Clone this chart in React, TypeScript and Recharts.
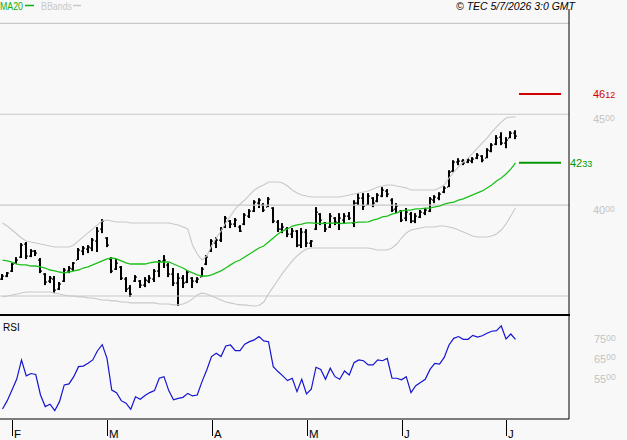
import React from 'react';
import { ComposedChart, Bar, Line, XAxis, YAxis, ReferenceLine } from 'recharts';

// Session index of the first trading day of each month, and its letter
const monthTicks = [2, 22, 44, 64, 84, 106];
const monthLabels = ['F', 'M', 'A', 'M', 'J', 'J'];

// Daily OHLC
const opens = [
  3595, 3610, 3640, 3680, 3712, 3785, 3720, 3745, 3700, 3620,
  3580, 3595, 3540, 3580, 3640, 3650, 3700, 3750, 3760, 3765,
  3800, 3870, 3820, 3705, 3650, 3660, 3595, 3545, 3580, 3585,
  3560, 3585, 3595, 3640, 3690, 3670, 3620, 3570, 3600, 3575,
  3600, 3580, 3605, 3675, 3745, 3790, 3810, 3880, 3910, 3895,
  3880, 3895, 3940, 3970, 4010, 4000, 3990, 3985, 3905, 3870,
  3870, 3840, 3855, 3780, 3850, 3790, 3870, 3950, 3900, 3880,
  3930, 3900, 3920, 3940, 3900, 4010, 4040, 4000, 4040, 4020,
  4050, 4080, 4030, 3980, 3965, 3930, 3950, 3915, 3935, 3955,
  3970, 4030, 4040, 4070, 4100, 4190, 4235, 4245, 4235, 4245,
  4260, 4270, 4260, 4300, 4335, 4375, 4340, 4370, 4395,
];
const highs = [
  3621, 3632, 3681, 3714, 3791, 3797, 3758, 3753, 3709, 3626,
  3610, 3610, 3577, 3654, 3665, 3687, 3764, 3775, 3780, 3819,
  3879, 3923, 3824, 3714, 3703, 3665, 3604, 3560, 3615, 3588,
  3604, 3615, 3648, 3698, 3725, 3681, 3654, 3626, 3615, 3643,
  3604, 3604, 3659, 3725, 3813, 3824, 3879, 3940, 3918, 3929,
  3890, 3956, 3978, 4027, 4038, 4011, 4044, 3989, 3918, 3901,
  3879, 3874, 3863, 3874, 3868, 3808, 3989, 3956, 3907, 3956,
  3934, 3956, 3956, 3962, 4027, 4066, 4066, 4066, 4044, 4066,
  4099, 4088, 4038, 4011, 3973, 3984, 3962, 3956, 3973, 3984,
  4044, 4055, 4071, 4104, 4192, 4247, 4258, 4253, 4258, 4264,
  4286, 4275, 4313, 4341, 4385, 4401, 4374, 4407, 4412,
];
const lows = [
  3588, 3604, 3632, 3676, 3709, 3703, 3714, 3720, 3626, 3560,
  3571, 3516, 3533, 3577, 3626, 3637, 3698, 3725, 3736, 3747,
  3742, 3846, 3769, 3626, 3643, 3588, 3522, 3495, 3577, 3544,
  3549, 3571, 3577, 3604, 3654, 3604, 3555, 3445, 3544, 3571,
  3544, 3571, 3604, 3670, 3742, 3764, 3797, 3874, 3874, 3879,
  3852, 3890, 3929, 3962, 3984, 3962, 3989, 3901, 3852, 3846,
  3824, 3819, 3769, 3764, 3769, 3769, 3863, 3890, 3852, 3874,
  3890, 3863, 3901, 3918, 3879, 4000, 3973, 4000, 3989, 4016,
  4044, 4044, 3962, 3956, 3907, 3912, 3901, 3901, 3929, 3945,
  3962, 4011, 4027, 4066, 4099, 4181, 4220, 4220, 4231, 4231,
  4253, 4236, 4258, 4291, 4330, 4330, 4313, 4368, 4363,
];
const closes = [
  3610, 3625, 3675, 3700, 3780, 3720, 3745, 3735, 3640, 3575,
  3600, 3535, 3565, 3645, 3655, 3680, 3755, 3765, 3770, 3810,
  3860, 3910, 3780, 3640, 3680, 3600, 3540, 3510, 3605, 3560,
  3590, 3600, 3640, 3690, 3700, 3620, 3570, 3600, 3570, 3630,
  3580, 3595, 3650, 3715, 3800, 3810, 3870, 3930, 3895, 3920,
  3860, 3945, 3970, 4015, 4030, 3975, 4035, 3910, 3870, 3880,
  3840, 3860, 3780, 3850, 3790, 3800, 3960, 3920, 3870, 3940,
  3905, 3930, 3940, 3930, 4010, 4040, 3995, 4050, 4010, 4055,
  4085, 4060, 3975, 3995, 3920, 3960, 3915, 3940, 3960, 3975,
  4035, 4045, 4060, 4095, 4180, 4235, 4245, 4230, 4250, 4255,
  4275, 4250, 4305, 4330, 4370, 4340, 4360, 4395, 4380,
];

// 20-session moving average and Bollinger envelope
const ma20 = [
  3698, 3693, 3687, 3676, 3671, 3671, 3665, 3665, 3660, 3654,
  3643, 3638, 3632, 3627, 3632, 3638, 3643, 3654, 3660, 3671,
  3682, 3693, 3704, 3709, 3704, 3693, 3682, 3676, 3676, 3676,
  3676, 3682, 3687, 3687, 3687, 3687, 3676, 3665, 3654, 3638,
  3627, 3616, 3610, 3610, 3616, 3627, 3638, 3654, 3671, 3687,
  3698, 3715, 3731, 3748, 3764, 3775, 3797, 3819, 3841, 3858,
  3869, 3885, 3891, 3896, 3902, 3902, 3900, 3899, 3900, 3902,
  3901, 3899, 3900, 3902, 3904, 3907, 3907, 3908, 3918, 3924,
  3935, 3940, 3951, 3957, 3968, 3973, 3973, 3979, 3979, 3984,
  3984, 3990, 3995, 4006, 4012, 4017, 4028, 4034, 4045, 4056,
  4067, 4078, 4094, 4111, 4133, 4149, 4171, 4198, 4233,
];
const bbUpper = [
  3902, 3885, 3863, 3841, 3819, 3803, 3797, 3792, 3786, 3781,
  3775, 3770, 3770, 3770, 3770, 3781, 3803, 3825, 3847, 3869,
  3891, 3913, 3918, 3913, 3907, 3907, 3907, 3902, 3902, 3902,
  3902, 3902, 3902, 3902, 3902, 3902, 3896, 3891, 3880, 3869,
  3781, 3731, 3698, 3720, 3775, 3819, 3858, 3902, 3940, 3979,
  4006, 4028, 4056, 4083, 4100, 4111, 4127, 4127, 4127, 4122,
  4105, 4083, 4067, 4056, 4050, 4045, 4045, 4045, 4045, 4045,
  4045, 4045, 4050, 4056, 4061, 4067, 4072, 4078, 4089, 4100,
  4105, 4111, 4111, 4105, 4100, 4094, 4083, 4083, 4083, 4083,
  4083, 4083, 4094, 4111, 4149, 4182, 4210, 4237, 4259, 4286,
  4314, 4342, 4369, 4402, 4430, 4457, 4479, 4485, 4485,
];
const bbLower = [
  3495, 3500, 3506, 3511, 3517, 3522, 3522, 3522, 3522, 3522,
  3522, 3517, 3511, 3506, 3500, 3500, 3495, 3495, 3489, 3489,
  3484, 3478, 3478, 3473, 3473, 3467, 3467, 3462, 3462, 3462,
  3462, 3462, 3462, 3456, 3456, 3456, 3451, 3451, 3456, 3467,
  3484, 3506, 3517, 3511, 3500, 3489, 3478, 3467, 3462, 3456,
  3451, 3451, 3448, 3445, 3448, 3467, 3511, 3550, 3588, 3627,
  3660, 3693, 3720, 3742, 3759, 3764, 3764, 3764, 3764, 3764,
  3764, 3764, 3764, 3764, 3764, 3764, 3764, 3764, 3759, 3753,
  3753, 3753, 3764, 3786, 3819, 3847, 3863, 3869, 3874, 3880,
  3880, 3880, 3885, 3885, 3880, 3874, 3863, 3852, 3841, 3830,
  3825, 3825, 3825, 3830, 3841, 3863, 3896, 3940, 3984,
];

// 14-session RSI
const rsi14 = [
  39.6, 43.8, 49.2, 54.8, 64.5, 56.4, 57.6, 57.1, 46.7, 40.8,
  42.0, 38.7, 43.3, 51.8, 52.3, 56.0, 61.1, 61.4, 62.8, 64.5,
  69.2, 72.3, 65.3, 49.2, 47.9, 43.8, 42.5, 39.4, 45.8, 44.5,
  46.4, 47.9, 48.9, 55.2, 56.0, 48.9, 44.2, 45.0, 45.5, 47.5,
  46.2, 46.7, 53.5, 59.4, 66.2, 67.9, 66.2, 71.6, 72.1, 69.2,
  69.2, 72.5, 73.8, 74.7, 76.4, 74.2, 73.8, 61.1, 58.6, 56.4,
  54.0, 55.2, 48.4, 54.7, 47.2, 49.6, 60.8, 59.7, 54.7, 60.3,
  56.0, 54.7, 58.9, 56.9, 63.1, 64.5, 64.1, 62.0, 62.0, 64.5,
  64.1, 65.3, 55.2, 55.2, 54.4, 56.0, 47.9, 51.4, 53.0, 54.7,
  59.7, 62.8, 62.4, 65.8, 72.1, 75.5, 76.4, 75.0, 75.0, 77.0,
  76.1, 76.8, 78.1, 79.1, 79.4, 81.8, 75.2, 77.7, 75.0,
];

const priceGrid = [3500, 4000, 4500, 5000];
const priceTicks = [4000, 4500];
const rsiTicks = [55, 65, 75];
const targetLevel = 4612;
const maLevel = 4233;

const data = opens.map((o, i) => ({
  i,
  open: o,
  high: highs[i],
  low: lows[i],
  close: closes[i],
  range: [lows[i], highs[i]],
  ma: ma20[i],
  up: bbUpper[i],
  lo: bbLower[i],
  rsi: rsi14[i],
}));

const X_DOMAIN: [number, number] = [-0.5263, 119.263];
const PRICE_DOMAIN: [number, number] = [3401, 5079];
const RSI_DOMAIN: [number, number] = [34.48, 86.85];
const FONT = '"Liberation Sans", Arial, sans-serif';
const GRID = '#c8c8c8';
const LABEL_GREY = '#c4c4c4';

const OhlcBar = (props: any) => {
  const { x, y, width, height, payload } = props;
  if (payload == null) return null;
  const top = Math.min(y, y + height);
  const h = Math.max(Math.abs(height), 1);
  const cx = Math.round(x + width / 2);
  const span = payload.high - payload.low || 1;
  const yOpen = Math.round(top + ((payload.high - payload.open) / span) * h);
  const yClose = Math.round(top + ((payload.high - payload.close) / span) * h);
  return (
    <g>
      <rect x={cx - 1} y={top} width={2} height={h} fill="#000" />
      <rect x={cx - 2} y={yOpen - 0.5} width={1} height={1.2} fill="#000" />
      <rect x={cx + 1} y={yClose - 0.5} width={1} height={1.2} fill="#000" />
    </g>
  );
};

const SplitValue = ({ x, y, value, color, small, raise }: any) => {
  const s = String(value);
  return (
    <text x={x} y={y} fill={color} fontSize={11} fontFamily={FONT}>
      {s.slice(0, 2)}
      <tspan fontSize={small} dy={-raise}>{s.slice(2)}</tspan>
    </text>
  );
};

const PriceTick = (props: any) => {
  const { y, payload } = props;
  return <SplitValue x={593} y={y + 9} value={payload.value} color={LABEL_GREY} small={8.5} raise={2.5} />;
};

const RsiTick = (props: any) => {
  const { y, payload } = props;
  return <SplitValue x={594} y={y + 4} value={payload.value * 100} color={LABEL_GREY} small={8.5} raise={2.5} />;
};

const MonthTick = (props: any) => {
  const { x, payload } = props;
  const idx = monthTicks.indexOf(payload.value);
  const label = idx >= 0 ? monthLabels[idx] : '';
  const px = Math.round(x) + 0.5;
  return (
    <g>
      <line x1={px} x2={px} y1={104} y2={120} stroke="#000" strokeWidth={1} />
      <text x={px + 1.5} y={122} fontSize={11.5} fontFamily={FONT} fill="#000">
        {label}
      </text>
    </g>
  );
};

const levelLabel = (value: number, color: string, dx: number) => (props: any) => {
  const vb = props.viewBox || {};
  return (
    <SplitValue x={dx} y={(vb.y ?? 0) + 4} value={value} color={color} small={9} raise={0} />
  );
};

export default function App() {
  return (
    <div
      style={{
        position: 'absolute',
        left: 0,
        top: 0,
        width: 627,
        height: 440,
        background: '#f8f8f8',
        overflow: 'hidden',
      }}
    >
      <div style={{ position: 'absolute', left: 0, top: 0 }}>
        <ComposedChart width={627} height={314} data={data} margin={{ top: 9, right: 0, bottom: 0, left: 0 }}>
          <XAxis dataKey="i" type="number" domain={X_DOMAIN} hide allowDataOverflow />
          <YAxis
            orientation="right"
            width={58}
            type="number"
            domain={PRICE_DOMAIN}
            ticks={priceTicks}
            interval={0}
            tick={<PriceTick />}
            tickLine={false}
            axisLine={{ stroke: '#000', strokeWidth: 1 }}
            allowDataOverflow
          />
          {priceGrid.map((v) => (
            <ReferenceLine key={v} y={v} stroke={GRID} strokeWidth={1.2} />
          ))}
          <Line dataKey="up" stroke={GRID} strokeWidth={1.1} dot={false} isAnimationActive={false} />
          <Line dataKey="lo" stroke={GRID} strokeWidth={1.1} dot={false} isAnimationActive={false} />
          <Line dataKey="ma" stroke="#1cc01c" strokeWidth={1.3} dot={false} isAnimationActive={false} />
          <Bar dataKey="range" barSize={4} shape={<OhlcBar />} isAnimationActive={false} />
          <ReferenceLine
            segment={[{ x: 108.74, y: targetLevel }, { x: 117.58, y: targetLevel }]}
            stroke="#d00000"
            strokeWidth={2}
            label={levelLabel(targetLevel, '#d00000', 593)}
          />
          <ReferenceLine
            segment={[{ x: 108.74, y: maLevel }, { x: 117.58, y: maLevel }]}
            stroke="#009a00"
            strokeWidth={2.2}
            label={levelLabel(maLevel, '#009a00', 570)}
          />
        </ComposedChart>
      </div>
      <div style={{ position: 'absolute', left: 0, top: 316 }}>
        <ComposedChart width={627} height={124} data={data} margin={{ top: 0, right: 0, bottom: 0, left: 0 }}>
          <XAxis
            dataKey="i"
            type="number"
            domain={X_DOMAIN}
            ticks={monthTicks}
            height={21}
            tick={<MonthTick />}
            tickLine={false}
            axisLine={{ stroke: '#000', strokeWidth: 1 }}
            allowDataOverflow
            interval={0}
          />
          <YAxis
            orientation="right"
            width={58}
            type="number"
            domain={RSI_DOMAIN}
            ticks={rsiTicks}
            interval={0}
            tick={<RsiTick />}
            tickLine={false}
            axisLine={{ stroke: '#000', strokeWidth: 1 }}
            allowDataOverflow
          />
          <Line dataKey="rsi" stroke="#1414d2" strokeWidth={1.2} dot={false} isAnimationActive={false} />
        </ComposedChart>
      </div>
      <svg
        width={627}
        height={440}
        style={{ position: 'absolute', left: 0, top: 0, pointerEvents: 'none' }}
      >
        <rect x={0} y={314} width={570} height={2} fill="#000" />
        <text x={0} y={10} fontSize={10} textLength={23} lengthAdjust="spacingAndGlyphs" fontFamily={FONT} fill="#10b010">MA20</text>
        <line x1={25} x2={34} y1={5.5} y2={5.5} stroke="#10b010" strokeWidth={1.5} />
        <text x={41} y={10} fontSize={10} textLength={31} lengthAdjust="spacingAndGlyphs" fontFamily={FONT} fill={GRID}>BBands</text>
        <line x1={73} x2={81} y1={5.5} y2={5.5} stroke={GRID} strokeWidth={1.5} />
        <text x={456} y={9.5} fontSize={11} textLength={119} lengthAdjust="spacingAndGlyphs" fontStyle="italic" fontFamily={FONT} fill="#000">
          © TEC 5/7/2026 3:0 GMT
        </text>
        <text x={3} y={331} fontSize={10} fontFamily={FONT} fill="#000">RSI</text>
      </svg>
    </div>
  );
}
